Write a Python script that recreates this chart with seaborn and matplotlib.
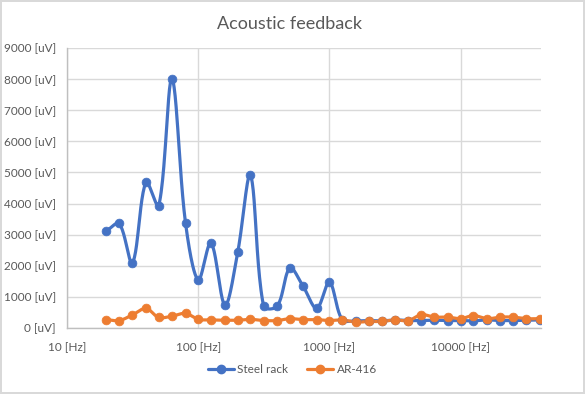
import numpy as np
import pandas as pd
import matplotlib
matplotlib.use("Agg")
import matplotlib.pyplot as plt
from matplotlib.lines import Line2D
from matplotlib.ticker import FixedLocator, LogLocator, NullFormatter
import seaborn as sns

# data (third-octave bands)
freqs = [20, 25, 31.5, 40, 50, 63, 80, 100, 125, 160, 200, 250, 315, 400, 500, 630,
         800, 1000, 1250, 1600, 2000, 2500, 3150, 4000, 5000, 6300, 8000, 10000,
         12500, 16000, 20000, 25000, 31500, 40000]
steel_rack = [3120, 3360, 2090, 4690, 3930, 8010, 3380, 1540, 2740, 730, 2440, 4910,
              700, 700, 1930, 1340, 630, 1470, 270, 230, 240, 230, 260, 240, 240, 250,
              240, 240, 230, 260, 240, 240, 250, 260]
ar_416 = [270, 240, 420, 630, 340, 380, 470, 280, 260, 250, 250, 280, 240, 240, 300,
          270, 270, 240, 260, 190, 210, 210, 260, 240, 430, 350, 350, 300, 400, 300,
          350, 350, 300, 300]
series_names = ["Steel rack", "AR-416"]
colors = ["#4472C4", "#ED7D31"]
x_ticks = [10, 100, 1000, 10000]
x_labels = ["10 [Hz]", "100 [Hz]", "1000 [Hz]", "10000 [Hz]"]
y_ticks = list(range(0, 9001, 1000))
y_labels = [f"{v} [uV]" for v in y_ticks]


def smooth(xs, ys, n=24, px_dec=131.0, px_unit=0.0309):
    # excel-like smoothed line: bezier through the points, control arms scaled
    # by chord lengths measured in screen space (log x)
    u = np.log10(np.asarray(xs, dtype=float)) * px_dec
    v = np.asarray(ys, dtype=float) * px_unit
    P = np.column_stack([u, v])
    P = np.vstack([P[0], P, P[-1]])
    t = np.linspace(0, 1, n, endpoint=False)[:, None]
    out = []
    for i in range(1, len(P) - 2):
        p0, p1, p2, p3 = P[i - 1], P[i], P[i + 1], P[i + 2]
        d01 = np.hypot(*(p1 - p0))
        d12 = np.hypot(*(p2 - p1))
        d23 = np.hypot(*(p3 - p2))
        f1 = d12 / (d01 + d12) / 3 if d01 + d12 > 0 else 0
        f2 = d12 / (d12 + d23) / 3 if d12 + d23 > 0 else 0
        b1 = p1 + (p2 - p0) * f1
        b2 = p2 - (p3 - p1) * f2
        seg = (1 - t) ** 3 * p1 + 3 * (1 - t) ** 2 * t * b1 + 3 * (1 - t) * t ** 2 * b2 + t ** 3 * p2
        out.append(seg)
    out.append(P[-1][None, :])
    out = np.vstack(out)
    return 10 ** (out[:, 0] / px_dec), out[:, 1] / px_unit


sns.set_theme(style="white")
plt.rcParams["font.family"] = ["Lato", "DejaVu Sans"]

fig = plt.figure(figsize=(5.85, 3.94), dpi=100)
fig.patch.set_edgecolor("#d9d9d9")
fig.patch.set_linewidth(1.5)
ax = fig.add_axes([0.1145, 0.1675, 0.8105, 0.7105])

handles = []
for name, vals, col in zip(series_names, [steel_rack, ar_416], colors):
    sx, sy = smooth(freqs, vals)
    curve = pd.DataFrame({"f": sx, "v": sy})
    pts = pd.DataFrame({"f": freqs, "v": vals})
    sns.lineplot(data=curve, x="f", y="v", sort=False, color=col, lw=2.3, ax=ax,
                 estimator=None)
    sns.scatterplot(data=pts, x="f", y="v", color=col, s=40, edgecolor=col, ax=ax,
                    zorder=3)
    handles.append(Line2D([], [], color=col, lw=2.3, marker="o", markersize=6))

ax.set_xscale("log")
ax.set_xlim(10, 41000)
ax.set_ylim(0, 9000)
ax.xaxis.set_major_locator(FixedLocator(x_ticks))
ax.set_xticklabels(x_labels)
ax.xaxis.set_minor_locator(LogLocator(base=10, subs=np.arange(2, 10)))
ax.xaxis.set_minor_formatter(NullFormatter())
ax.set_yticks(y_ticks)
ax.set_yticklabels(y_labels)
ax.set_xlabel("")
ax.set_ylabel("")

ax.grid(True, which="major", color="#d9d9d9", lw=1)
ax.set_axisbelow(True)
for s in ["top", "right"]:
    ax.spines[s].set_visible(False)
for s in ["left", "bottom"]:
    ax.spines[s].set_color("#bfbfbf")
    ax.spines[s].set_linewidth(1)
ax.tick_params(axis="both", which="both", colors="#bfbfbf", labelcolor="#595959",
               labelsize=8.5, direction="out")
ax.tick_params(axis="x", which="major", length=4, width=1, pad=6)
ax.tick_params(axis="x", which="minor", length=4, width=1)
ax.tick_params(axis="y", length=4, width=1, pad=4)

# title is centred on the whole chart, like excel does
fig.text(0.495, 0.94, "Acoustic feedback", fontsize=13, color="#595959",
         ha="center", va="center")
fig.legend(handles, series_names, loc="center", bbox_to_anchor=(0.5, 0.062), ncol=2,
           frameon=False, fontsize=8.5, labelcolor="#595959", handlelength=2.2,
           columnspacing=1.6, handletextpad=0.3)

fig.savefig("out.png", dpi=100, edgecolor=fig.get_edgecolor())
